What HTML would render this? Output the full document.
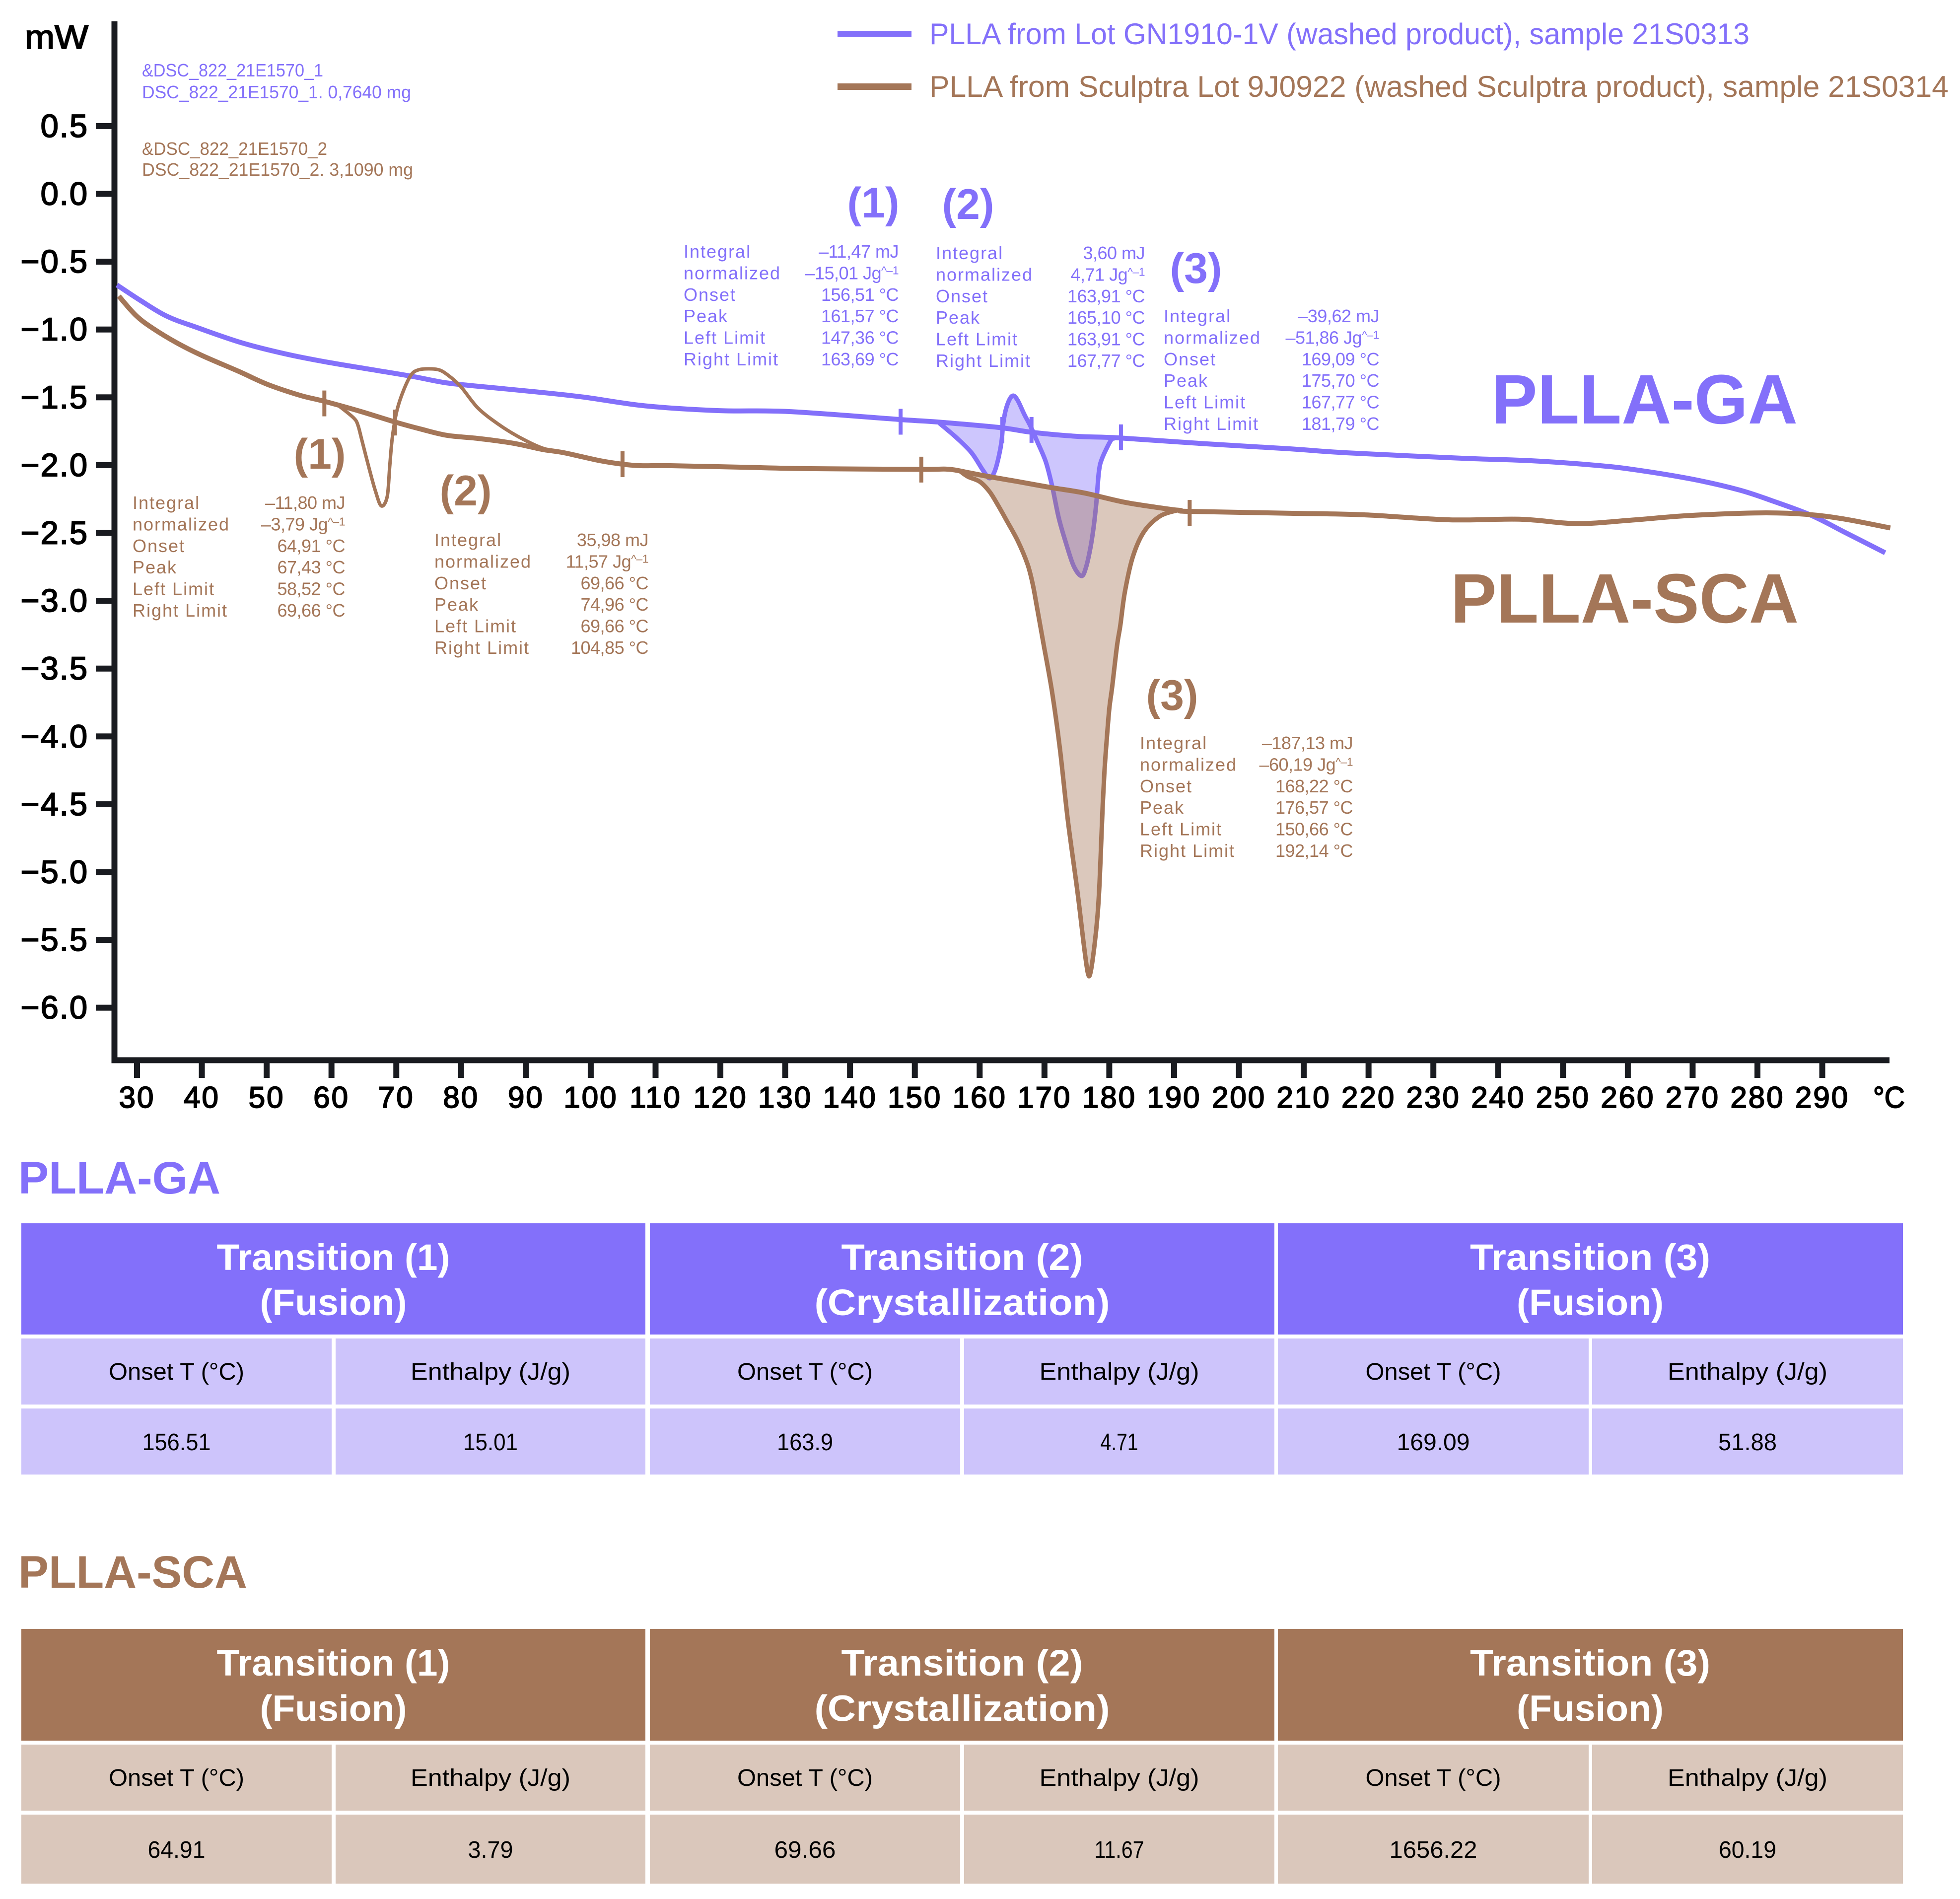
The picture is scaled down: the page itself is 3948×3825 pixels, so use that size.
<!DOCTYPE html>
<html lang="en">
<head>
<meta charset="utf-8">
<title>DSC thermograms of PLLA-GA and PLLA-SCA</title>
<style>
html,body{margin:0;padding:0;background:#fff}
svg{display:block}
text{font-family:"Liberation Sans",sans-serif}
.ga{fill:#8370FA}
.sca{fill:#A47658}
.lbl{font-size:36px;letter-spacing:2px}
.val{font-size:36px;letter-spacing:-.5px;text-anchor:end}
.sup{font-size:23px}
.small{font-size:36px}
.num{font-size:86px;font-weight:700;text-anchor:middle}
.big{font-size:141px;font-weight:700}
.sec{font-size:92px;font-weight:700}
.leg{font-size:60px}
.th{font-size:74px;font-weight:700;fill:#fff;text-anchor:middle}
.td{font-size:48px;fill:#000;text-anchor:middle}
.tick{fill:#000;stroke:#000;stroke-width:2px}
.xt{font-size:60px;letter-spacing:3px;text-anchor:middle}
.yt{font-size:65px;letter-spacing:2px;text-anchor:end}
</style>
</head>
<body>
<svg id="page" xmlns="http://www.w3.org/2000/svg" width="3948" height="3825" viewBox="0 0 3948 3825">
  <rect x="0" y="0" width="3948" height="3825" fill="#fff"/>

  <g id="plot"></g>

  <text class="tick" x="178" y="98" font-size="68" textLength="128" lengthAdjust="spacingAndGlyphs" text-anchor="end">mW</text>
  <text class="tick" x="3773" y="2231" font-size="60" textLength="64" lengthAdjust="spacingAndGlyphs">°C</text>

  <g>
    <g>
      <rect x="1687" y="62" width="149" height="12" fill="#8370FA"/>
      <text class="leg ga" x="1872" y="89" textLength="1652" lengthAdjust="spacingAndGlyphs">PLLA from Lot GN1910-1V (washed product), sample 21S0313</text>
    </g>
    <g>
      <rect x="1687" y="168" width="149" height="13" fill="#A47658"/>
      <text class="leg sca" x="1872" y="195" textLength="2053" lengthAdjust="spacingAndGlyphs">PLLA from Sculptra Lot 9J0922 (washed Sculptra product), sample 21S0314</text>
    </g>
  </g>

  <g>
    <text class="small ga" x="286" y="154" textLength="365" lengthAdjust="spacingAndGlyphs">&amp;DSC_822_21E1570_1</text>
    <text class="small ga" x="286" y="198" textLength="542" lengthAdjust="spacingAndGlyphs">DSC_822_21E1570_1. 0,7640 mg</text>
    <text class="small sca" x="286" y="312" textLength="373" lengthAdjust="spacingAndGlyphs">&amp;DSC_822_21E1570_2</text>
    <text class="small sca" x="286" y="354" textLength="546" lengthAdjust="spacingAndGlyphs">DSC_822_21E1570_2. 3,1090 mg</text>
  </g>

  <text class="big ga" x="3004" y="853" textLength="617" lengthAdjust="spacingAndGlyphs">PLLA-GA</text>
  <text class="big sca" x="2922" y="1254" textLength="701" lengthAdjust="spacingAndGlyphs">PLLA-SCA</text>

  <text class="num ga" x="1759" y="438">(1)</text>
  <text class="num ga" x="1950" y="441">(2)</text>
  <text class="num ga" x="2409" y="570">(3)</text>
  <text class="num sca" x="644" y="944">(1)</text>
  <text class="num sca" x="938" y="1018">(2)</text>
  <text class="num sca" x="2361" y="1430">(3)</text>

  <!-- annotation blocks -->
  <g transform="translate(1377,519)">
    <text class="lbl ga"><tspan x="0" y="0">Integral</tspan><tspan x="0" y="43.4">normalized</tspan><tspan x="0" y="86.8">Onset</tspan><tspan x="0" y="130.2">Peak</tspan><tspan x="0" y="173.6">Left Limit</tspan><tspan x="0" y="217">Right Limit</tspan></text>
    <text class="val ga"><tspan x="433" y="0">–11,47 mJ</tspan><tspan x="433" y="43.4">–15,01 Jg<tspan class="sup" dy="-10">^–1</tspan></tspan><tspan x="433" y="86.8">156,51 °C</tspan><tspan x="433" y="130.2">161,57 °C</tspan><tspan x="433" y="173.6">147,36 °C</tspan><tspan x="433" y="217">163,69 °C</tspan></text>
  </g>
  <g transform="translate(1885,522)">
    <text class="lbl ga"><tspan x="0" y="0">Integral</tspan><tspan x="0" y="43.4">normalized</tspan><tspan x="0" y="86.8">Onset</tspan><tspan x="0" y="130.2">Peak</tspan><tspan x="0" y="173.6">Left Limit</tspan><tspan x="0" y="217">Right Limit</tspan></text>
    <text class="val ga"><tspan x="421" y="0">3,60 mJ</tspan><tspan x="421" y="43.4">4,71 Jg<tspan class="sup" dy="-10">^–1</tspan></tspan><tspan x="421" y="86.8">163,91 °C</tspan><tspan x="421" y="130.2">165,10 °C</tspan><tspan x="421" y="173.6">163,91 °C</tspan><tspan x="421" y="217">167,77 °C</tspan></text>
  </g>
  <g transform="translate(2344,649)">
    <text class="lbl ga"><tspan x="0" y="0">Integral</tspan><tspan x="0" y="43.4">normalized</tspan><tspan x="0" y="86.8">Onset</tspan><tspan x="0" y="130.2">Peak</tspan><tspan x="0" y="173.6">Left Limit</tspan><tspan x="0" y="217">Right Limit</tspan></text>
    <text class="val ga"><tspan x="434" y="0">–39,62 mJ</tspan><tspan x="434" y="43.4">–51,86 Jg<tspan class="sup" dy="-10">^–1</tspan></tspan><tspan x="434" y="86.8">169,09 °C</tspan><tspan x="434" y="130.2">175,70 °C</tspan><tspan x="434" y="173.6">167,77 °C</tspan><tspan x="434" y="217">181,79 °C</tspan></text>
  </g>
  <g transform="translate(267,1025)">
    <text class="lbl sca"><tspan x="0" y="0">Integral</tspan><tspan x="0" y="43.4">normalized</tspan><tspan x="0" y="86.8">Onset</tspan><tspan x="0" y="130.2">Peak</tspan><tspan x="0" y="173.6">Left Limit</tspan><tspan x="0" y="217">Right Limit</tspan></text>
    <text class="val sca"><tspan x="428" y="0">–11,80 mJ</tspan><tspan x="428" y="43.4">–3,79 Jg<tspan class="sup" dy="-10">^–1</tspan></tspan><tspan x="428" y="86.8">64,91 °C</tspan><tspan x="428" y="130.2">67,43 °C</tspan><tspan x="428" y="173.6">58,52 °C</tspan><tspan x="428" y="217">69,66 °C</tspan></text>
  </g>
  <g transform="translate(875,1100)">
    <text class="lbl sca"><tspan x="0" y="0">Integral</tspan><tspan x="0" y="43.4">normalized</tspan><tspan x="0" y="86.8">Onset</tspan><tspan x="0" y="130.2">Peak</tspan><tspan x="0" y="173.6">Left Limit</tspan><tspan x="0" y="217">Right Limit</tspan></text>
    <text class="val sca"><tspan x="431" y="0">35,98 mJ</tspan><tspan x="431" y="43.4">11,57 Jg<tspan class="sup" dy="-10">^–1</tspan></tspan><tspan x="431" y="86.8">69,66 °C</tspan><tspan x="431" y="130.2">74,96 °C</tspan><tspan x="431" y="173.6">69,66 °C</tspan><tspan x="431" y="217">104,85 °C</tspan></text>
  </g>
  <g transform="translate(2296,1509)">
    <text class="lbl sca"><tspan x="0" y="0">Integral</tspan><tspan x="0" y="43.4">normalized</tspan><tspan x="0" y="86.8">Onset</tspan><tspan x="0" y="130.2">Peak</tspan><tspan x="0" y="173.6">Left Limit</tspan><tspan x="0" y="217">Right Limit</tspan></text>
    <text class="val sca"><tspan x="429" y="0">–187,13 mJ</tspan><tspan x="429" y="43.4">–60,19 Jg<tspan class="sup" dy="-10">^–1</tspan></tspan><tspan x="429" y="86.8">168,22 °C</tspan><tspan x="429" y="130.2">176,57 °C</tspan><tspan x="429" y="173.6">150,66 °C</tspan><tspan x="429" y="217">192,14 °C</tspan></text>
  </g>

  <!-- PLLA-GA table -->
  <text class="sec ga" x="37" y="2404" textLength="407" lengthAdjust="spacingAndGlyphs">PLLA-GA</text>
  <g>
    <g fill="#8370FA">
      <rect x="43" y="2464" width="1257" height="224"/>
      <rect x="1309" y="2464" width="1258" height="224"/>
      <rect x="2574" y="2464" width="1259" height="224"/>
    </g>
    <g fill="#CDC4FB">
      <rect x="43" y="2696" width="625" height="133"/>
      <rect x="676" y="2696" width="624" height="133"/>
      <rect x="1309" y="2696" width="625" height="133"/>
      <rect x="1942" y="2696" width="625" height="133"/>
      <rect x="2574" y="2696" width="626" height="133"/>
      <rect x="3207" y="2696" width="626" height="133"/>
      <rect x="43" y="2837" width="625" height="133"/>
      <rect x="676" y="2837" width="624" height="133"/>
      <rect x="1309" y="2837" width="625" height="133"/>
      <rect x="1942" y="2837" width="625" height="133"/>
      <rect x="2574" y="2837" width="626" height="133"/>
      <rect x="3207" y="2837" width="626" height="133"/>
    </g>
    <text class="th"><tspan x="671.5" y="2558" textLength="470" lengthAdjust="spacingAndGlyphs">Transition (1)</tspan><tspan x="671.5" y="2649" textLength="296" lengthAdjust="spacingAndGlyphs">(Fusion)</tspan></text>
    <text class="th"><tspan x="1938" y="2558" textLength="487" lengthAdjust="spacingAndGlyphs">Transition (2)</tspan><tspan x="1938" y="2649" textLength="595" lengthAdjust="spacingAndGlyphs">(Crystallization)</tspan></text>
    <text class="th"><tspan x="3203" y="2558" textLength="484" lengthAdjust="spacingAndGlyphs">Transition (3)</tspan><tspan x="3203" y="2649" textLength="296" lengthAdjust="spacingAndGlyphs">(Fusion)</tspan></text>
    <text class="td" x="355.5" y="2779" textLength="273" lengthAdjust="spacingAndGlyphs">Onset T (°C)</text>
    <text class="td" x="988" y="2779" textLength="322" lengthAdjust="spacingAndGlyphs">Enthalpy (J/g)</text>
    <text class="td" x="1621.5" y="2779" textLength="273" lengthAdjust="spacingAndGlyphs">Onset T (°C)</text>
    <text class="td" x="2254.5" y="2779" textLength="322" lengthAdjust="spacingAndGlyphs">Enthalpy (J/g)</text>
    <text class="td" x="2887" y="2779" textLength="273" lengthAdjust="spacingAndGlyphs">Onset T (°C)</text>
    <text class="td" x="3520" y="2779" textLength="322" lengthAdjust="spacingAndGlyphs">Enthalpy (J/g)</text>
    <text class="td" x="355.5" y="2921" textLength="138" lengthAdjust="spacingAndGlyphs">156.51</text>
    <text class="td" x="988" y="2921" textLength="110" lengthAdjust="spacingAndGlyphs">15.01</text>
    <text class="td" x="1621.5" y="2921" textLength="113" lengthAdjust="spacingAndGlyphs">163.9</text>
    <text class="td" x="2254.5" y="2921" textLength="76" lengthAdjust="spacingAndGlyphs">4.71</text>
    <text class="td" x="2887" y="2921" textLength="147" lengthAdjust="spacingAndGlyphs">169.09</text>
    <text class="td" x="3520" y="2921" textLength="118" lengthAdjust="spacingAndGlyphs">51.88</text>
  </g>

  <!-- PLLA-SCA table -->
  <text class="sec sca" x="37" y="3198" textLength="461" lengthAdjust="spacingAndGlyphs">PLLA-SCA</text>
  <g>
    <g fill="#A47658">
      <rect x="43" y="3281" width="1257" height="225"/>
      <rect x="1309" y="3281" width="1258" height="225"/>
      <rect x="2574" y="3281" width="1259" height="225"/>
    </g>
    <g fill="#DAC7BB">
      <rect x="43" y="3514" width="625" height="133"/>
      <rect x="676" y="3514" width="624" height="133"/>
      <rect x="1309" y="3514" width="625" height="133"/>
      <rect x="1942" y="3514" width="625" height="133"/>
      <rect x="2574" y="3514" width="626" height="133"/>
      <rect x="3207" y="3514" width="626" height="133"/>
      <rect x="43" y="3655" width="625" height="139"/>
      <rect x="676" y="3655" width="624" height="139"/>
      <rect x="1309" y="3655" width="625" height="139"/>
      <rect x="1942" y="3655" width="625" height="139"/>
      <rect x="2574" y="3655" width="626" height="139"/>
      <rect x="3207" y="3655" width="626" height="139"/>
    </g>
    <text class="th"><tspan x="671.5" y="3375" textLength="470" lengthAdjust="spacingAndGlyphs">Transition (1)</tspan><tspan x="671.5" y="3466.5" textLength="296" lengthAdjust="spacingAndGlyphs">(Fusion)</tspan></text>
    <text class="th"><tspan x="1938" y="3375" textLength="487" lengthAdjust="spacingAndGlyphs">Transition (2)</tspan><tspan x="1938" y="3466.5" textLength="595" lengthAdjust="spacingAndGlyphs">(Crystallization)</tspan></text>
    <text class="th"><tspan x="3203" y="3375" textLength="484" lengthAdjust="spacingAndGlyphs">Transition (3)</tspan><tspan x="3203" y="3466.5" textLength="296" lengthAdjust="spacingAndGlyphs">(Fusion)</tspan></text>
    <text class="td" x="355.5" y="3597" textLength="273" lengthAdjust="spacingAndGlyphs">Onset T (°C)</text>
    <text class="td" x="988" y="3597" textLength="322" lengthAdjust="spacingAndGlyphs">Enthalpy (J/g)</text>
    <text class="td" x="1621.5" y="3597" textLength="273" lengthAdjust="spacingAndGlyphs">Onset T (°C)</text>
    <text class="td" x="2254.5" y="3597" textLength="322" lengthAdjust="spacingAndGlyphs">Enthalpy (J/g)</text>
    <text class="td" x="2887" y="3597" textLength="273" lengthAdjust="spacingAndGlyphs">Onset T (°C)</text>
    <text class="td" x="3520" y="3597" textLength="322" lengthAdjust="spacingAndGlyphs">Enthalpy (J/g)</text>
    <text class="td" x="355.5" y="3742" textLength="116" lengthAdjust="spacingAndGlyphs">64.91</text>
    <text class="td" x="988" y="3742" textLength="91" lengthAdjust="spacingAndGlyphs">3.79</text>
    <text class="td" x="1621.5" y="3742" textLength="124" lengthAdjust="spacingAndGlyphs">69.66</text>
    <text class="td" x="2254.5" y="3742" textLength="100" lengthAdjust="spacingAndGlyphs">11.67</text>
    <text class="td" x="2887" y="3742" textLength="177" lengthAdjust="spacingAndGlyphs">1656.22</text>
    <text class="td" x="3520" y="3742" textLength="116" lengthAdjust="spacingAndGlyphs">60.19</text>
  </g>
</svg>

<script>
var xTicks = [30,40,50,60,70,80,90,100,110,120,130,140,150,160,170,180,190,200,210,220,230,240,250,260,270,280,290];
var yTicks = [0.5,0,-0.5,-1,-1.5,-2,-2.5,-3,-3.5,-4,-4.5,-5,-5.5,-6];

var gaTemp = [26.9,30.5,34.6,39.3,46.3,53.3,59.6,66.0,72.4,77.4,81.9,91.4,99.0,108.4,119.8,130.6,147.8,153.5,163.0,168.1,175.1,181.5,194.1,208.0,216.6,234.4,244.9,254.1,260.7,269.9,277.2,282.4,288.3,293.6,299.7];
var gaPower = [-0.672,-0.785,-0.902,-0.986,-1.100,-1.184,-1.243,-1.294,-1.345,-1.391,-1.415,-1.459,-1.499,-1.563,-1.598,-1.605,-1.664,-1.682,-1.722,-1.758,-1.788,-1.799,-1.840,-1.880,-1.909,-1.949,-1.967,-1.997,-2.031,-2.103,-2.183,-2.265,-2.370,-2.498,-2.646];

var gaPeakTemp = [153.85,156.46,158.75,160.5,161.5,162.3,163.0,163.4,163.6,164.0,164.6,165.2,165.9,166.9,167.9,168.9,170.2,171.2,172.2,173.3,174.5,175.7,176.4,177.1,177.6,178.0,178.4,178.9,180.2,180.7];
var gaPeakPower = [-1.693,-1.799,-1.909,-2.037,-2.096,-2.048,-1.927,-1.817,-1.708,-1.598,-1.517,-1.488,-1.525,-1.627,-1.718,-1.828,-1.975,-2.158,-2.388,-2.571,-2.743,-2.817,-2.755,-2.608,-2.451,-2.279,-2.048,-1.949,-1.821,-1.803];

var scaTemp = [27.2,29.8,32.4,36.2,40.0,45.7,50.1,55.2,58.8,64.3,69.8,74.0,77.9,82.6,88.1,92.4,95.9,101.4,104.9,107.7,112.3,123.1,133.9,151.0,155.2,158.2,161.5,165.9,171.0,176.1,182.5,188.9,191.0,192.4,208.0,219.2,232.4,243.5,252.1,260.7,269.3,280.5,287.7,293.6,300.5];
var scaPower = [-0.754,-0.895,-0.990,-1.100,-1.191,-1.309,-1.404,-1.486,-1.528,-1.601,-1.682,-1.737,-1.781,-1.803,-1.839,-1.883,-1.909,-1.967,-1.993,-2.004,-2.004,-2.015,-2.026,-2.031,-2.030,-2.055,-2.085,-2.121,-2.165,-2.205,-2.275,-2.322,-2.334,-2.341,-2.355,-2.366,-2.403,-2.399,-2.431,-2.405,-2.372,-2.352,-2.363,-2.399,-2.463];

var scaPeakATemp = [60.6,61.6,63.5,64.1,64.7,65.8,66.8,67.7,68.6,69.0,69.4,70.1,71.1,72.3,73.4,75.0,76.6,77.9,79.9,82.6,85.8,88.9,92.4,95.0];
var scaPeakAPower = [-1.545,-1.580,-1.656,-1.708,-1.817,-2.022,-2.194,-2.301,-2.231,-2.000,-1.792,-1.598,-1.451,-1.334,-1.298,-1.290,-1.298,-1.334,-1.418,-1.579,-1.700,-1.792,-1.872,-1.902];

var scaPeakBTemp = [157.0,158.2,160.0,161.5,162.8,164.1,165.9,167.4,168.2,168.8,169.9,171.2,172.4,173.6,175.1,176.1,176.7,177.1,177.7,178.2,178.5,178.8,179.0,179.25,179.6,180.0,180.45,181.2,181.7,182.4,183.6,185.3,187.8,190.4];
var scaPeakBPower = [-2.045,-2.085,-2.121,-2.194,-2.293,-2.403,-2.560,-2.732,-2.879,-3.036,-3.329,-3.680,-4.098,-4.614,-5.148,-5.547,-5.745,-5.742,-5.547,-5.313,-5.079,-4.731,-4.497,-4.263,-4.028,-3.797,-3.633,-3.329,-3.183,-2.937,-2.681,-2.495,-2.377,-2.334];

var gaLimitTemp = [147.8,163.5,168.0,181.8];
var gaLimitPower = [-1.680,-1.740,-1.740,-1.795];
var scaLimitTemp = [58.9,69.8,104.9,151.0,192.4];
var scaLimitPower = [-1.545,-1.686,-1.993,-2.033,-2.352];

var GA_COLOR = '#8370FA';
var SCA_COLOR = '#A47658';
var AXIS_COLOR = '#191B20';
var SVG_NS = 'http://www.w3.org/2000/svg';
var plot = document.getElementById('plot');

function xScale(t) { return 276 + 13.056 * (t - 30); }
function yScale(v) { return 390.5 - 273.2 * v; }

function make(tag, attrs) {
  var node = document.createElementNS(SVG_NS, tag);
  for (var k in attrs) { node.setAttribute(k, attrs[k]); }
  plot.appendChild(node);
  return node;
}

function smoothPath(temps, powers, close) {
  var p = temps.map(function (t, i) { return [xScale(t), yScale(powers[i])]; });
  var d = 'M' + p[0][0].toFixed(1) + ',' + p[0][1].toFixed(1);
  for (var i = 0; i < p.length - 1; i++) {
    var a = p[Math.max(i - 1, 0)], b = p[i], c = p[i + 1], e = p[Math.min(i + 2, p.length - 1)];
    var c1x = b[0] + (c[0] - a[0]) / 6, c1y = b[1] + (c[1] - a[1]) / 6;
    var c2x = c[0] - (e[0] - b[0]) / 6, c2y = c[1] - (e[1] - b[1]) / 6;
    d += 'C' + c1x.toFixed(1) + ',' + c1y.toFixed(1) + ' ' + c2x.toFixed(1) + ',' + c2y.toFixed(1) + ' ' + c[0].toFixed(1) + ',' + c[1].toFixed(1);
  }
  return close ? d + 'Z' : d;
}

var yAxisLine = make('rect', {x: 224.5, y: 43, width: 12, height: 2098.5, fill: AXIS_COLOR});



var xAxisLine = make('rect', {x: 224.5, y: 2129.5, width: 3581.5, height: 12, fill: AXIS_COLOR});



xTicks.forEach(function (t) {
  var tick = make('rect', {x: xScale(t) - 6, y: 2139, width: 12, height: 32, fill: AXIS_COLOR});
  
  
  var label = make('text', {x: xScale(t), y: 2231, 'class': 'tick xt'});
  label.textContent = String(t);
  
  
});

yTicks.forEach(function (v) {
  var name = String(v).replace('.', '-').replace('-', 'm');
  var tick = make('rect', {x: 193, y: yScale(v) - 6, width: 34, height: 12, fill: AXIS_COLOR});
  
  
  var label = make('text', {x: 178, y: yScale(v) + 22, 'class': 'tick yt'});
  label.textContent = v.toFixed(1).replace('-', '\u2212');
  
  
});

var gaFill = make('path', {d: smoothPath(gaPeakTemp, gaPeakPower, true), fill: GA_COLOR, 'fill-opacity': 0.4, stroke: 'none'});



var gaPeakLine = make('path', {d: smoothPath(gaPeakTemp, gaPeakPower, false), fill: 'none', stroke: GA_COLOR, 'stroke-width': 9, 'stroke-linejoin': 'round', 'stroke-linecap': 'round'});



var gaLine = make('path', {d: smoothPath(gaTemp, gaPower, false), fill: 'none', stroke: GA_COLOR, 'stroke-width': 10});



gaLimitTemp.forEach(function (t, i) {
  var mark = make('rect', {x: xScale(t) - 4, y: yScale(gaLimitPower[i]) - 26, width: 8, height: 52, fill: GA_COLOR});
  
  
});

var scaFill = make('path', {d: smoothPath(scaPeakBTemp, scaPeakBPower, true), fill: SCA_COLOR, 'fill-opacity': 0.4, stroke: 'none'});



var scaPeakLineB = make('path', {d: smoothPath(scaPeakBTemp, scaPeakBPower, false), fill: 'none', stroke: SCA_COLOR, 'stroke-width': 9, 'stroke-linejoin': 'round', 'stroke-linecap': 'round'});



var scaPeakLineA = make('path', {d: smoothPath(scaPeakATemp, scaPeakAPower, false), fill: 'none', stroke: SCA_COLOR, 'stroke-width': 7, 'stroke-linejoin': 'round', 'stroke-linecap': 'round'});



var scaLine = make('path', {d: smoothPath(scaTemp, scaPower, false), fill: 'none', stroke: SCA_COLOR, 'stroke-width': 10});



scaLimitTemp.forEach(function (t, i) {
  var mark = make('rect', {x: xScale(t) - 4, y: yScale(scaLimitPower[i]) - 26, width: 8, height: 52, fill: SCA_COLOR});
  
  
});
</script>
</body>
</html>
